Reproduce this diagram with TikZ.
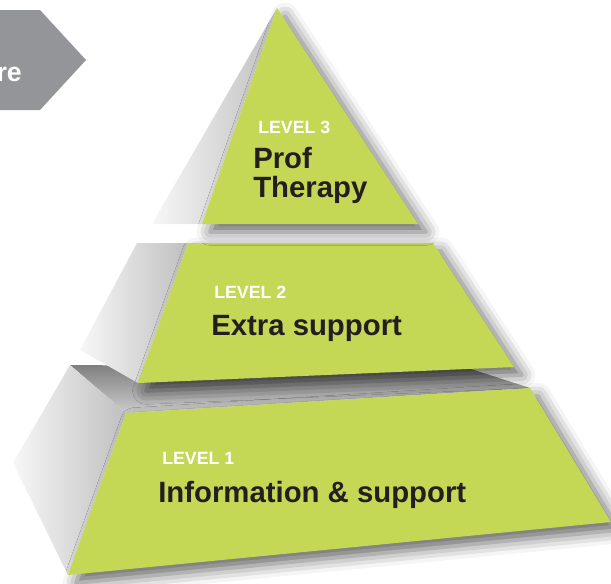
\documentclass[tikz,border=0pt]{standalone}
\usepackage{fontspec}
\setmainfont{Liberation Sans}
\usetikzlibrary{shadows.blur}
\definecolor{levelgreen}{RGB}{196,216,86}
\definecolor{tabgray}{RGB}{147,149,152}
\definecolor{nametext}{RGB}{35,31,32}

\begin{document}
\begin{tikzpicture}[x=0.75pt,y=-0.75pt,
  frontface/.style={fill=levelgreen,blur shadow={shadow xshift=6pt,shadow yshift=-6pt,shadow blur radius=10pt,shadow opacity=60}},
  sideface/.style={left color=gray!6,right color=gray!50},
  leveltag/.style={anchor=base west,inner sep=0pt,text=white,font=\bfseries\fontsize{13.3}{16}\selectfont},
  levelname/.style={anchor=base west,inner sep=0pt,text=nametext,align=left,font=\bfseries\fontsize{22}{21.75}\selectfont}]
\useasboundingbox (0,0) rectangle (611,583);
\fill[tabgray] (0,10) -- (40,10) -- (86,60) -- (40,110) -- (0,110) -- cycle;
\node[anchor=base east,inner sep=0pt,text=white,font=\bfseries\fontsize{20}{24}\selectfont] (tab) at (22,81) {re};
\shade[top color=black!50,bottom color=gray!40] (70,365) -- (468,368) -- (530,388) -- (126,413) -- cycle;
\shade[sideface] (70,365) -- (126,413) -- (68,575) -- (13,463) -- cycle;
\fill[frontface] (126,413) -- (530,388) -- (611,522) -- (68,575) -- cycle;
\shade[sideface] (137,243) -- (188,243) -- (138,383) -- (80,350) -- cycle;
\fill[frontface] (188,243) -- (433,243) -- (514,367) -- (138,383) -- cycle;
\shade[sideface] (277,8) -- (202,224) -- (152,224) -- cycle;
\fill[frontface] (277,8) -- (418,224) -- (202,224) -- cycle;
\node[leveltag] (tag3) at (258,133) {LEVEL 3};
\node[levelname] (name3) at (253,197) {Prof\\Therapy};
\node[leveltag] (tag2) at (214,298) {LEVEL 2};
\node[levelname] (name2) at (211,335) {Extra support};
\node[leveltag] (tag1) at (162,464) {LEVEL 1};
\node[levelname] (name1) at (158,502) {Information \& support};
\end{tikzpicture}
\end{document}
